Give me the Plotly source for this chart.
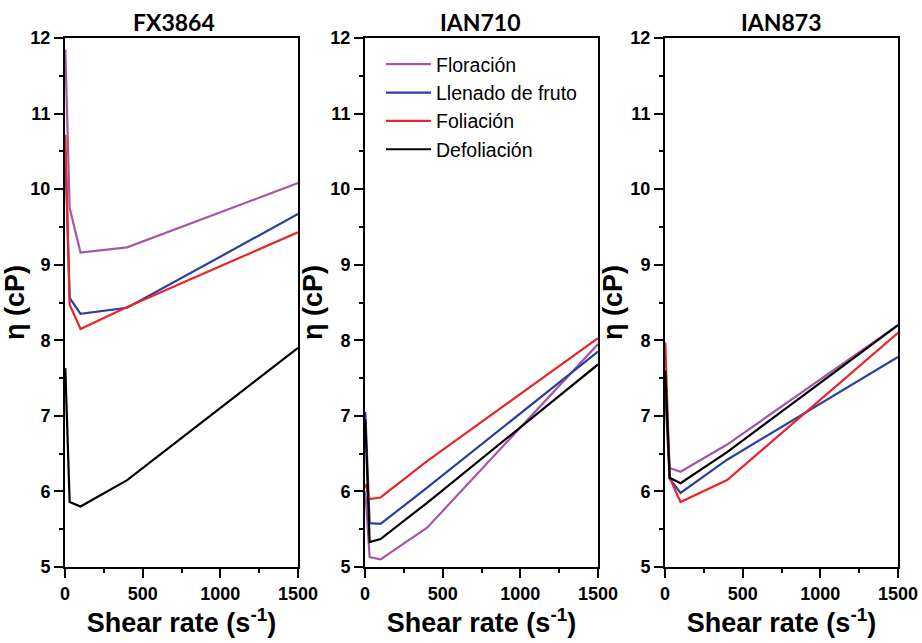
import plotly.graph_objects as go

shear = [2, 30, 100, 400, 1500]
panels = ["FX3864", "IAN710", "IAN873"]
series_names = ["Floración", "Llenado de fruto", "Foliación", "Defoliación"]
colors = ["#A855A8", "#2B3F9E", "#E8262A", "#000000"]

fx3864 = {
    "Floración": [11.85, 9.75, 9.16, 9.23, 10.08],
    "Llenado de fruto": [10.5, 8.56, 8.35, 8.43, 9.67],
    "Foliación": [10.72, 8.47, 8.15, 8.44, 9.43],
    "Defoliación": [7.63, 5.86, 5.80, 6.15, 7.90],
}
ian710 = {
    "Floración": [6.0, 5.13, 5.10, 5.52, 7.95],
    "Llenado de fruto": [7.05, 5.58, 5.57, 6.05, 7.85],
    "Foliación": [6.1, 5.90, 5.92, 6.40, 8.03],
    "Defoliación": [6.95, 5.33, 5.37, 5.85, 7.68],
}
ian873 = {
    "Floración": [7.5, 6.31, 6.26, 6.62, 8.20],
    "Llenado de fruto": [7.3, 6.17, 5.98, 6.42, 7.78],
    "Foliación": [7.97, 6.18, 5.86, 6.15, 8.10],
    "Defoliación": [7.6, 6.18, 6.11, 6.52, 8.20],
}
data = [fx3864, ian710, ian873]

x_major = [0, 500, 1000, 1500]
x_minor = [250, 750, 1250]
y_major = [5, 6, 7, 8, 9, 10, 11, 12]
y_minor = [5.5, 6.5, 7.5, 8.5, 9.5, 10.5, 11.5]

W, H = 922, 643
x_px = [(65, 298), (365, 598), (665, 898)]
title_cx = [174, 481, 781]
y_top, y_bot = 38, 567

fig = go.Figure()
for i, d in enumerate(data):
    ax = "" if i == 0 else str(i + 1)
    for name, col in zip(series_names, colors):
        fig.add_trace(go.Scatter(
            x=shear, y=d[name], mode="lines", name=name,
            line=dict(color=col, width=2.2),
            xaxis="x" + ax, yaxis="y" + ax,
            showlegend=(i == 1),
        ))
# invisible traces carrying the minor-tick overlay axes
for i in range(3):
    n = str(i + 4)
    fig.add_trace(go.Scatter(x=[None], y=[None], mode="lines", showlegend=False,
                             hoverinfo="skip", xaxis="x" + n, yaxis="y" + n))

tickfont = dict(family="Arial", size=18, color="black", weight="bold")
layout = dict(
    width=W, height=H, paper_bgcolor="white", plot_bgcolor="white",
    margin=dict(l=0, r=0, t=0, b=0, autoexpand=False),
    font=dict(family="Arial", color="black"),
    legend=dict(x=381 / W, y=1 - 45 / H, xanchor="left", yanchor="top",
                font=dict(family="Arial", size=19.5, color="black"),
                bgcolor="rgba(0,0,0,0)", itemwidth=45, tracegroupgap=0),
    annotations=[],
)
for i in range(3):
    ax = "" if i == 0 else str(i + 1)
    n = str(i + 4)
    x0, x1 = x_px[i]
    xdom = [x0 / W, x1 / W]
    ydom = [1 - y_bot / H, 1 - y_top / H]
    layout["xaxis" + ax] = dict(
        domain=xdom, range=[0, 1500], anchor="y" + ax,
        tickmode="array", tickvals=x_major, ticks="outside", ticklen=9, tickwidth=2,
        tickcolor="black", showline=True, linewidth=2, linecolor="black",
        mirror=True, showgrid=False, zeroline=False, tickfont=tickfont,
        automargin=False,
        title=dict(text="<b>Shear rate (s<sup>-1</sup>)</b>", standoff=8,
                   font=dict(family="Arial", size=27, color="black")),
    )
    layout["yaxis" + ax] = dict(
        domain=ydom, range=[5, 12], anchor="x" + ax,
        tickmode="array", tickvals=y_major, ticks="outside", ticklen=9, tickwidth=2,
        tickcolor="black", showline=True, linewidth=2, linecolor="black", mirror=True,
        showgrid=False, zeroline=False, tickfont=tickfont, automargin=False,
        title=dict(text="<b>η (cP)</b>", standoff=0,
                   font=dict(family="Arial", size=27, color="black")),
    )
    layout["xaxis" + n] = dict(
        domain=xdom, range=[0, 1500], anchor="y" + n, overlaying="x" + ax,
        tickmode="array", tickvals=x_minor, showticklabels=False,
        ticks="outside", ticklen=5, tickwidth=2, tickcolor="black",
        showline=False, showgrid=False, zeroline=False, automargin=False,
    )
    layout["yaxis" + n] = dict(
        domain=ydom, range=[5, 12], anchor="x" + n, overlaying="y" + ax,
        tickmode="array", tickvals=y_minor, showticklabels=False,
        ticks="outside", ticklen=5, tickwidth=2, tickcolor="black",
        showline=False, showgrid=False, zeroline=False, automargin=False,
    )
    layout["annotations"].append(dict(
        text="<b>%s</b>" % panels[i], x=title_cx[i] / W, y=1 - 22 / H,
        xref="paper", yref="paper", showarrow=False,
        xanchor="center", yanchor="middle",
        font=dict(family="Lato", size=23, color="black"),
    ))

fig.update_layout(**layout)
fig.write_html("out.html", config={"displayModeBar": False},
               post_script="document.body.style.margin='0';")
